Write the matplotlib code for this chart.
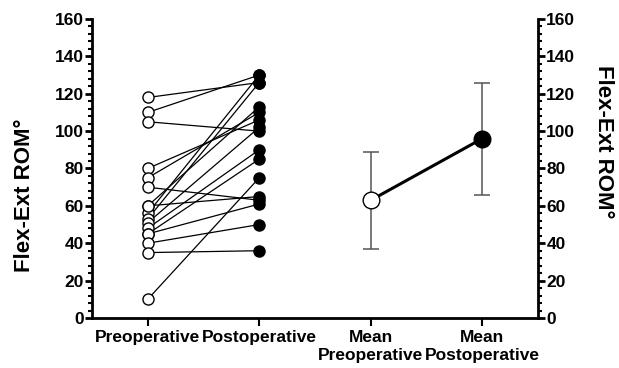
import matplotlib
matplotlib.use("Agg")
import matplotlib.pyplot as plt
from matplotlib.ticker import MultipleLocator

plt.rcParams['font.family'] = ['Liberation Sans', 'DejaVu Sans']

categories = ["Preoperative", "Postoperative", "Mean\nPreoperative", "Mean\nPostoperative"]
pre_values = [118, 110, 105, 80, 75, 70, 60, 56, 53, 51, 48, 45, 45, 40, 35, 10, 60]
post_values = [126, 130, 100, 106, 110, 63, 113, 130, 126, 102, 90, 61, 85, 50, 36, 75, 65]
mean_values = [63, 96]
sd_values = [26, 30]
y_ticks = [0, 20, 40, 60, 80, 100, 120, 140, 160]

fig = plt.figure(figsize=(6.19, 3.68), dpi=100)
ax = fig.add_axes([0.1486, 0.1359, 0.7205, 0.8125])

for a, b in zip(pre_values, post_values):
    ax.plot([0, 1], [a, b], color='black', lw=0.9, zorder=2)
ax.plot([0] * len(pre_values), pre_values, 'o', ms=8, mfc='white', mec='black', mew=1.0, zorder=3, ls='none')
ax.plot([1] * len(post_values), post_values, 'o', ms=8, mfc='black', mec='black', zorder=3, ls='none')

ax.errorbar([2, 3], mean_values, yerr=sd_values, fmt='none', ecolor='#555555', elinewidth=1.1, capsize=6, capthick=1.1, zorder=2)
ax.plot([2, 3], mean_values, color='black', lw=2.2, zorder=3)
ax.plot([2], [mean_values[0]], 'o', ms=12, mfc='white', mec='black', mew=1.0, zorder=4)
ax.plot([3], [mean_values[1]], 'o', ms=12, mfc='black', mec='black', zorder=4)

ax.set_xlim(-0.5, 3.5)
ax.set_ylim(0, 160)
ax.set_xticks(range(4))
ax.set_xticklabels(categories, fontsize=12.5, fontweight='bold', linespacing=1.2)
ax.set_yticks(y_ticks)
ax.set_yticklabels([str(v) for v in y_ticks], fontsize=12.5, fontweight='bold')
ax.yaxis.set_minor_locator(MultipleLocator(4))
ax.tick_params(axis='y', which='major', direction='out', length=5, width=2, pad=1)
ax.tick_params(axis='y', which='minor', direction='out', length=3, width=1.5)
ax.tick_params(axis='x', which='major', direction='out', length=6, width=1.5, pad=3)
ax.spines['top'].set_visible(False)
ax.spines['right'].set_visible(False)
ax.spines['left'].set_linewidth(2)
ax.spines['bottom'].set_linewidth(2)
ax.set_ylabel("Flex-Ext ROM°", fontsize=16, fontweight='bold')
ax.yaxis.label.set_va('center')
ax.yaxis.set_label_coords(-0.152, 0.41)

ax2 = ax.twinx()
ax2.set_ylim(0, 160)
ax2.set_yticks(y_ticks)
ax2.set_yticklabels([str(v) for v in y_ticks], fontsize=12.5, fontweight='bold')
ax2.yaxis.set_minor_locator(MultipleLocator(4))
ax2.tick_params(axis='y', which='major', direction='out', length=5, width=2, pad=1)
ax2.tick_params(axis='y', which='minor', direction='out', length=3, width=1.5)
for s in ['top', 'left', 'bottom']:
    ax2.spines[s].set_visible(False)
ax2.spines['right'].set_linewidth(2)
ax2.set_ylabel("Flex-Ext ROM°", fontsize=16, fontweight='bold', rotation=270)
ax2.yaxis.label.set_va('center')
ax2.yaxis.set_label_coords(1.148, 0.59)

fig.savefig("out.png", dpi=100)
